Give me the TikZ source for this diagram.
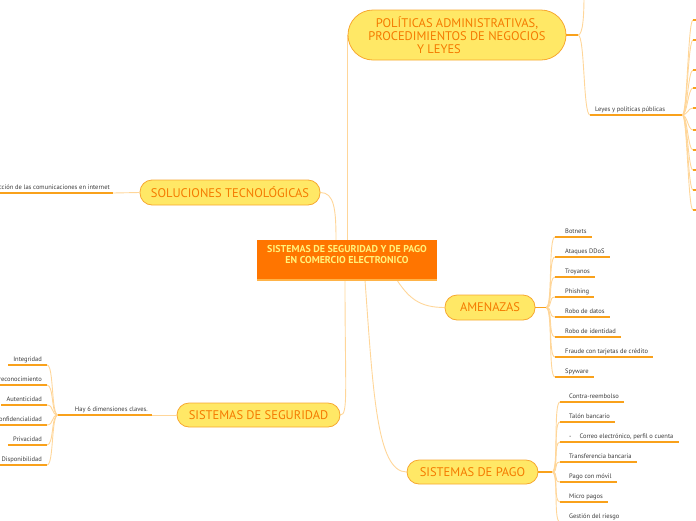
\documentclass[tikz,border=0pt]{standalone}
\usepackage{fontspec}
\setmainfont{PT Sans}
\usetikzlibrary{calc,backgrounds}
\definecolor{CoreOrange}{HTML}{FF7500}
\definecolor{CoreText}{HTML}{FFF27A}
\definecolor{CoreEdge}{HTML}{FFB347}
\definecolor{PillFill}{HTML}{FFE866}
\definecolor{PillLine}{HTML}{F7A830}
\definecolor{PillText}{HTML}{F57A00}
\definecolor{LinkTan}{HTML}{FFD699}
\definecolor{RuleOrange}{HTML}{F9A11B}
\definecolor{LeafGray}{HTML}{3A3A3A}
\begin{document}
\begin{tikzpicture}[x=1pt,y=-1pt,
    pill/.style={draw=PillLine,fill=PillFill,text=PillText,line width=.8pt,
      rounded corners=12pt,inner sep=0pt,font=\fontsize{12.5}{13}\selectfont},
    link/.style={draw=LinkTan,line width=.9pt},
    rule/.style={draw=RuleOrange,line width=1.5pt},
    leaf/.style={font=\fontsize{6.5}{7}\selectfont,text=LeafGray,inner xsep=5pt,
      inner ysep=2pt,text height=5pt,text depth=1.5pt}]
  \useasboundingbox (0,0) rectangle (696,520);
  % centre
  \node[fill=CoreOrange,text=CoreText,font=\bfseries\fontsize{10}{11}\selectfont,
    align=center,minimum width=180pt,minimum height=40pt,text depth=12pt] (core) at (347,260)
    {SISTEMAS DE SEGURIDAD Y DE PAGO\\EN COMERCIO ELECTRONICO};
  \draw[CoreEdge,line width=1.5pt] (core.south west) -- (core.south east);
  % main branches
  \node[pill,minimum width=218pt,minimum height=50pt,rounded corners=25pt,align=center] (pol) at (457,35)
    {POLÍTICAS ADMINISTRATIVAS,\\PROCEDIMIENTOS DE NEGOCIOS\\Y LEYES\hspace*{36pt}};
  \node[pill,minimum width=180pt,minimum height=25pt] (sol) at (230,192.5) {SOLUCIONES TECNOLÓGICAS};
  \node[pill,minimum width=90pt,minimum height=25pt] (ame) at (490,307.5) {AMENAZAS};
  \node[pill,minimum width=163pt,minimum height=24pt] (seg) at (258.5,415) {SISTEMAS DE SEGURIDAD};
  \node[pill,minimum width=131pt,minimum height=24pt] (pago) at (472.5,472) {SISTEMAS DE PAGO};
  \begin{scope}[on background layer]
    \draw[link] (pol.west |- core.north) -- (pol.west);
    \draw[link] (sol.east) .. controls +(14,0) and +(0,-30) .. ($(core.north)+(-11,0)$);
    \draw[link] ($(core.south)+(-2,0)$) .. controls +(0,110) and +(8,0) .. (seg.east);
    \draw[link] ($(core.south)+(18,0)$) .. controls +(8,110) and +(-30,0) .. (pago.west);
    \draw[link] ($(core.south)+(50,0)$) .. controls +(12,18) and +(-25,0) .. (ame.west);
  \end{scope}
  % politicas
  \coordinate (polHub) at (578,35);
  \coordinate (polTop) at (584,-5);
  \draw[rule] (pol.east) -- (polHub);
  \node[leaf,anchor=south west] (leyes) at (590,115) {Leyes y políticas públicas};
  \coordinate (leyHub) at ($(leyes.south east)+(12,0)$);
  \draw[rule] (leyes.south west) -- (leyHub);
  \begin{scope}[on background layer]
    \draw[link] (polHub) .. controls +(5,0) and +(0,20) .. (polTop);
    \draw[link] (polHub) .. controls +(7,0) and +(-7,0) .. (leyes.south west);
  \end{scope}
  \foreach \y in {20,40,70,88,108,130,150,170,190,210}{
    \coordinate (ley\y) at (693,\y);
    \coordinate (leyEnd\y) at (700,\y);
    \draw[link] (leyHub) .. controls +(5,0) and +(-5,0) .. (ley\y);
    \draw[rule] (ley\y) -- (leyEnd\y);
  }
  % soluciones
  \node[leaf,anchor=south east,inner xsep=3pt] (prot) at (113,193) {Protección de las comunicaciones en internet};
  \draw[rule] (prot.south west) -- (prot.south east);
  \draw[link] (sol.west) -- (prot.south east);
  % seguridad
  \node[leaf,anchor=south east,inner xsep=4pt] (dims) at (152,415) {Hay 6 dimensiones claves.};
  \coordinate (dimHub) at (58,415);
  \draw[rule] (dimHub) -- (dims.south east);
  \draw[link] (seg.west) -- (dims.south east);
  \foreach \t [count=\i] in {Integridad,No reconocimiento,Autenticidad,Confidencialidad,Privacidad,Disponibilidad}{
    \node[leaf,anchor=south east] (dim\i) at (47,345+20*\i) {\t};
    \draw[rule] (dim\i.south west) -- (dim\i.south east);
    \begin{scope}[on background layer]
      \draw[link] (dimHub) .. controls +(-7,0) and +(7,0) .. (dim\i.south east);
    \end{scope}
  }
  % amenazas
  \coordinate (ameHub) at (546,307.5);
  \draw[rule] (ame.east) -- (ameHub);
  \foreach \t [count=\i] in {Botnets,Ataques DDoS,Troyanos,Phishing,Robo de datos,Robo de identidad,Fraude con tarjetas de crédito,Spyware}{
    \node[leaf,anchor=south west] (amen\i) at (560,217+20*\i) {\t};
    \draw[rule] ($(amen\i.south west)+(-5,0)$) -- (amen\i.south east);
    \begin{scope}[on background layer]
      \draw[link] (ameHub) .. controls +(7,0) and +(-7,0) .. ($(amen\i.south west)+(-5,0)$);
    \end{scope}
  }
  % pago
  \coordinate (pagoHub) at (552,472);
  \draw[rule] (pago.east) -- (pagoHub);
  \foreach \t [count=\i] in {Contra-reembolso,Talón bancario,{-\hspace{8pt}Correo electrónico, perfil o cuenta},Transferencia bancaria,Pago con móvil,Micro pagos,Gestión del riesgo}{
    \node[leaf,anchor=south west] (pag\i) at (564,382+20*\i) {\t};
    \draw[rule] ($(pag\i.south west)+(-4,0)$) -- (pag\i.south east);
    \begin{scope}[on background layer]
      \draw[link] (pagoHub) .. controls +(7,0) and +(-7,0) .. ($(pag\i.south west)+(-4,0)$);
    \end{scope}
  }
\end{tikzpicture}
\end{document}
